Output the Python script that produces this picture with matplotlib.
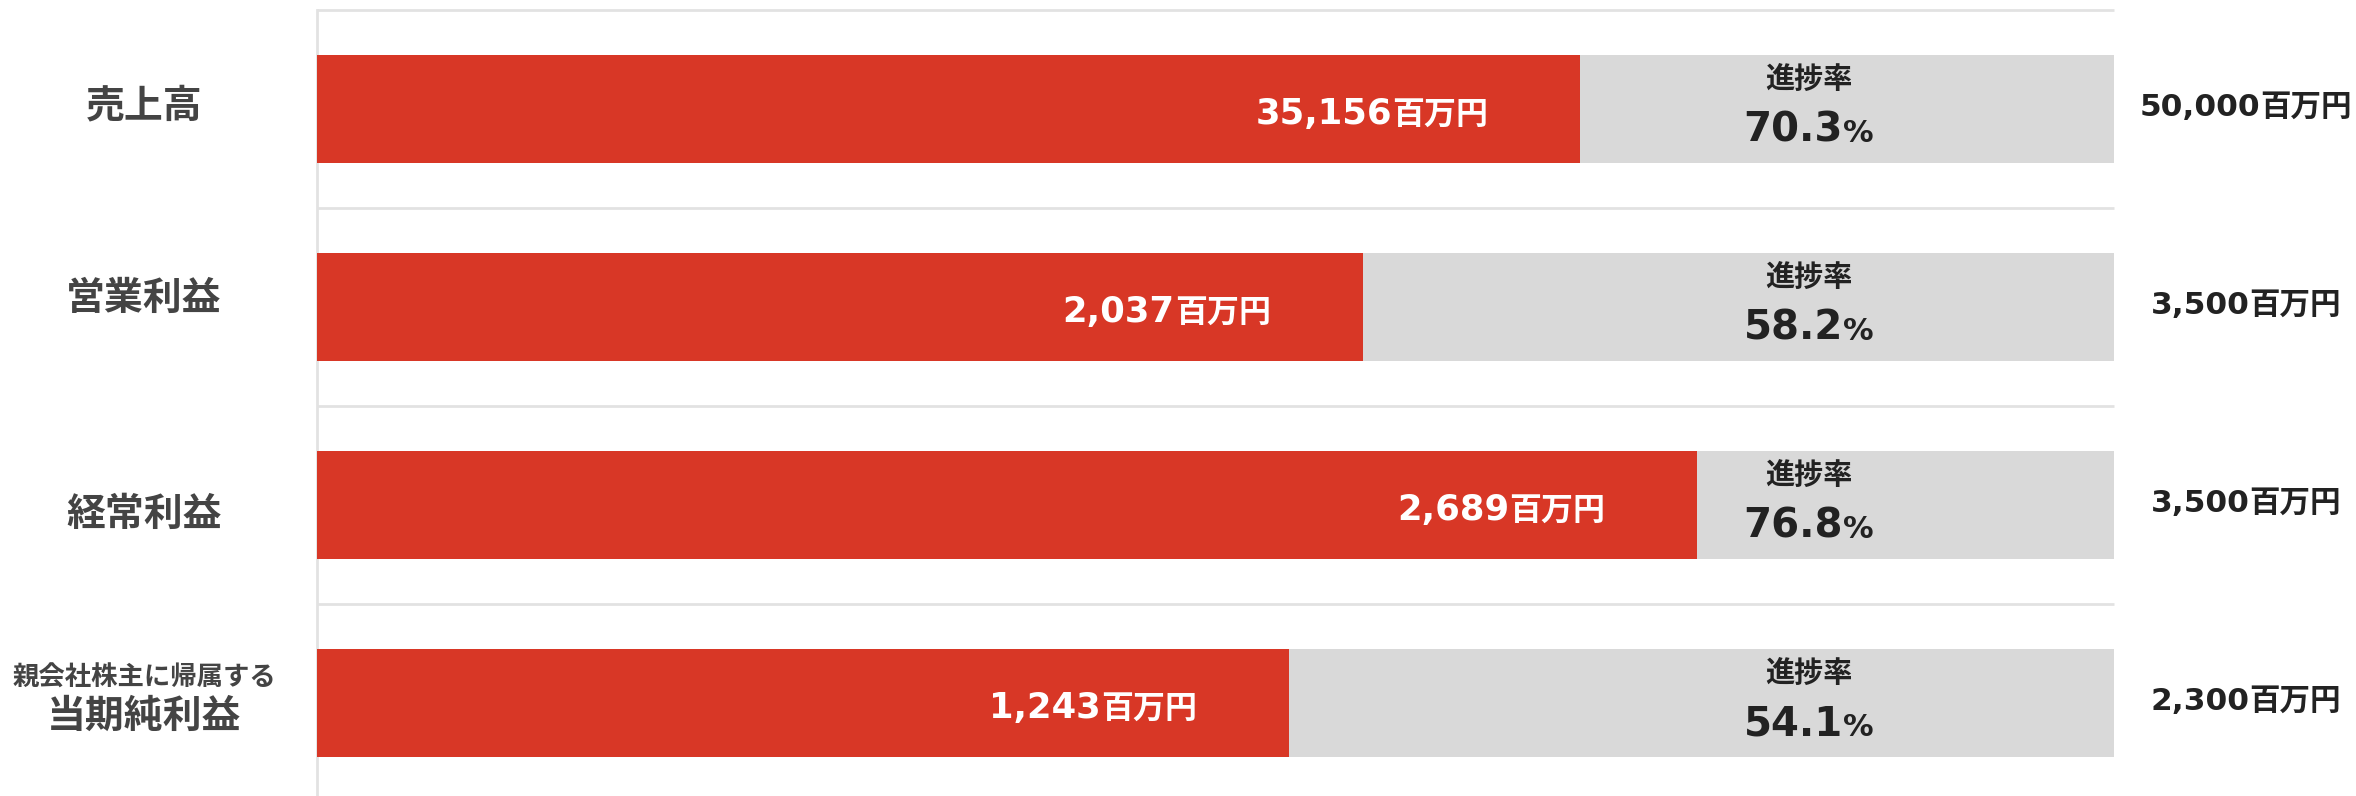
import matplotlib
matplotlib.use("Agg")
import matplotlib.pyplot as plt
from matplotlib.transforms import IdentityTransform

# ---------------- data ----------------
categories = ["売上高", "営業利益", "経常利益", "当期純利益"]
category_notes = ["", "", "", "親会社株主に帰属する"]
actual_values = ["35,156", "2,037", "2,689", "1,243"]
target_values = ["50,000", "3,500", "3,500", "2,300"]
progress = [70.3, 58.2, 76.8, 54.1]
unit_label = "百万円"
progress_title = "進捗率"

# ---------------- style ----------------
RED = "#D83726"
GRAY = "#D9D9D9"
GRID = "#E2E2E2"
DARK = "#222222"
LABEL = "#444444"
CJK = ["Noto Sans CJK JP", "DejaVu Sans"]
LATIN = ["DejaVu Sans", "Noto Sans CJK JP"]

W, H, DPI = 2356, 796, 100
fig = plt.figure(figsize=(W / DPI, H / DPI), dpi=DPI)
fig.patch.set_facecolor("white")
ax = fig.add_axes([317 / W, 0, 1797 / W, 786 / H])

n = len(categories)
ypos = list(range(n))
bar_h = 0.55

# background (target = 100%) and achieved bars
ax.barh(ypos, [100] * n, height=bar_h, color=GRAY, zorder=2)
ax.barh(ypos, progress, height=bar_h, color=RED, zorder=3)

# separators
ax.hlines([i - 0.5 for i in ypos], 0, 100, color=GRID, lw=2, zorder=1, clip_on=False)
ax.axvline(0, color=GRID, lw=2, zorder=1, clip_on=False)

ax.set_xlim(0, 100)
ax.set_ylim(n - 0.5 - 6 / 198, -0.5)
for s in ax.spines.values():
    s.set_visible(False)
ax.set_xticks([])
ax.set_yticks([])
ax.patch.set_alpha(0)

renderer = fig.canvas.get_renderer()


def compound(x, y, parts, ha="left"):
    """parts: list of (text, size, family, color); x,y in display px (baseline)."""
    texts = []
    for s, size, fam, col in parts:
        t = fig.text(0, 0, s, fontsize=size, family=fam, color=col,
                     fontweight="bold", ha="left", va="baseline",
                     transform=IdentityTransform())
        texts.append(t)
    widths = [t.get_window_extent(renderer).width for t in texts]
    total = sum(widths)
    if ha == "right":
        start = x - total
    elif ha == "center":
        start = x - total / 2
    else:
        start = x
    for t, w in zip(texts, widths):
        t.set_position((start, y))
        start += w
    return texts


def disp(xd, yd):
    return ax.transData.transform((xd, yd))


ax_x = lambda f: ax.transAxes.transform((f, 0))[0]

left_baseline_px = [8.5, 3, 21, 25]
note_baseline_px = -17.5

for i in ypos:
    cx, cy = disp(0, i)
    # left category labels
    lx = ax_x(-0.0963)
    compound(lx, cy - left_baseline_px[i],
             [(categories[i], 28, CJK, LABEL)], ha="center")
    if category_notes[i]:
        compound(lx, cy - note_baseline_px,
                 [(category_notes[i], 19, CJK, LABEL)], ha="center")

    # value label inside red bar
    ex, _ = disp(progress[i], i)
    compound(ex - 92, cy - 15,
             [(actual_values[i], 25.5, LATIN, "white"),
              (unit_label, 23, CJK, "white")], ha="right")

    # progress rate
    px = ax_x(0.83)
    compound(px, cy + 21, [(progress_title, 21, CJK, DARK)], ha="center")
    compound(px, cy - 33,
             [(f"{progress[i]:.1f}", 29, LATIN, DARK),
              ("%", 22, LATIN, DARK)], ha="center")

    # target
    tx = ax_x(1.0734)
    compound(tx, cy - 7,
             [(target_values[i], 22.5, LATIN, DARK),
              (unit_label, 22, CJK, DARK)], ha="center")

fig.savefig("out.png", dpi=DPI, facecolor="white")
